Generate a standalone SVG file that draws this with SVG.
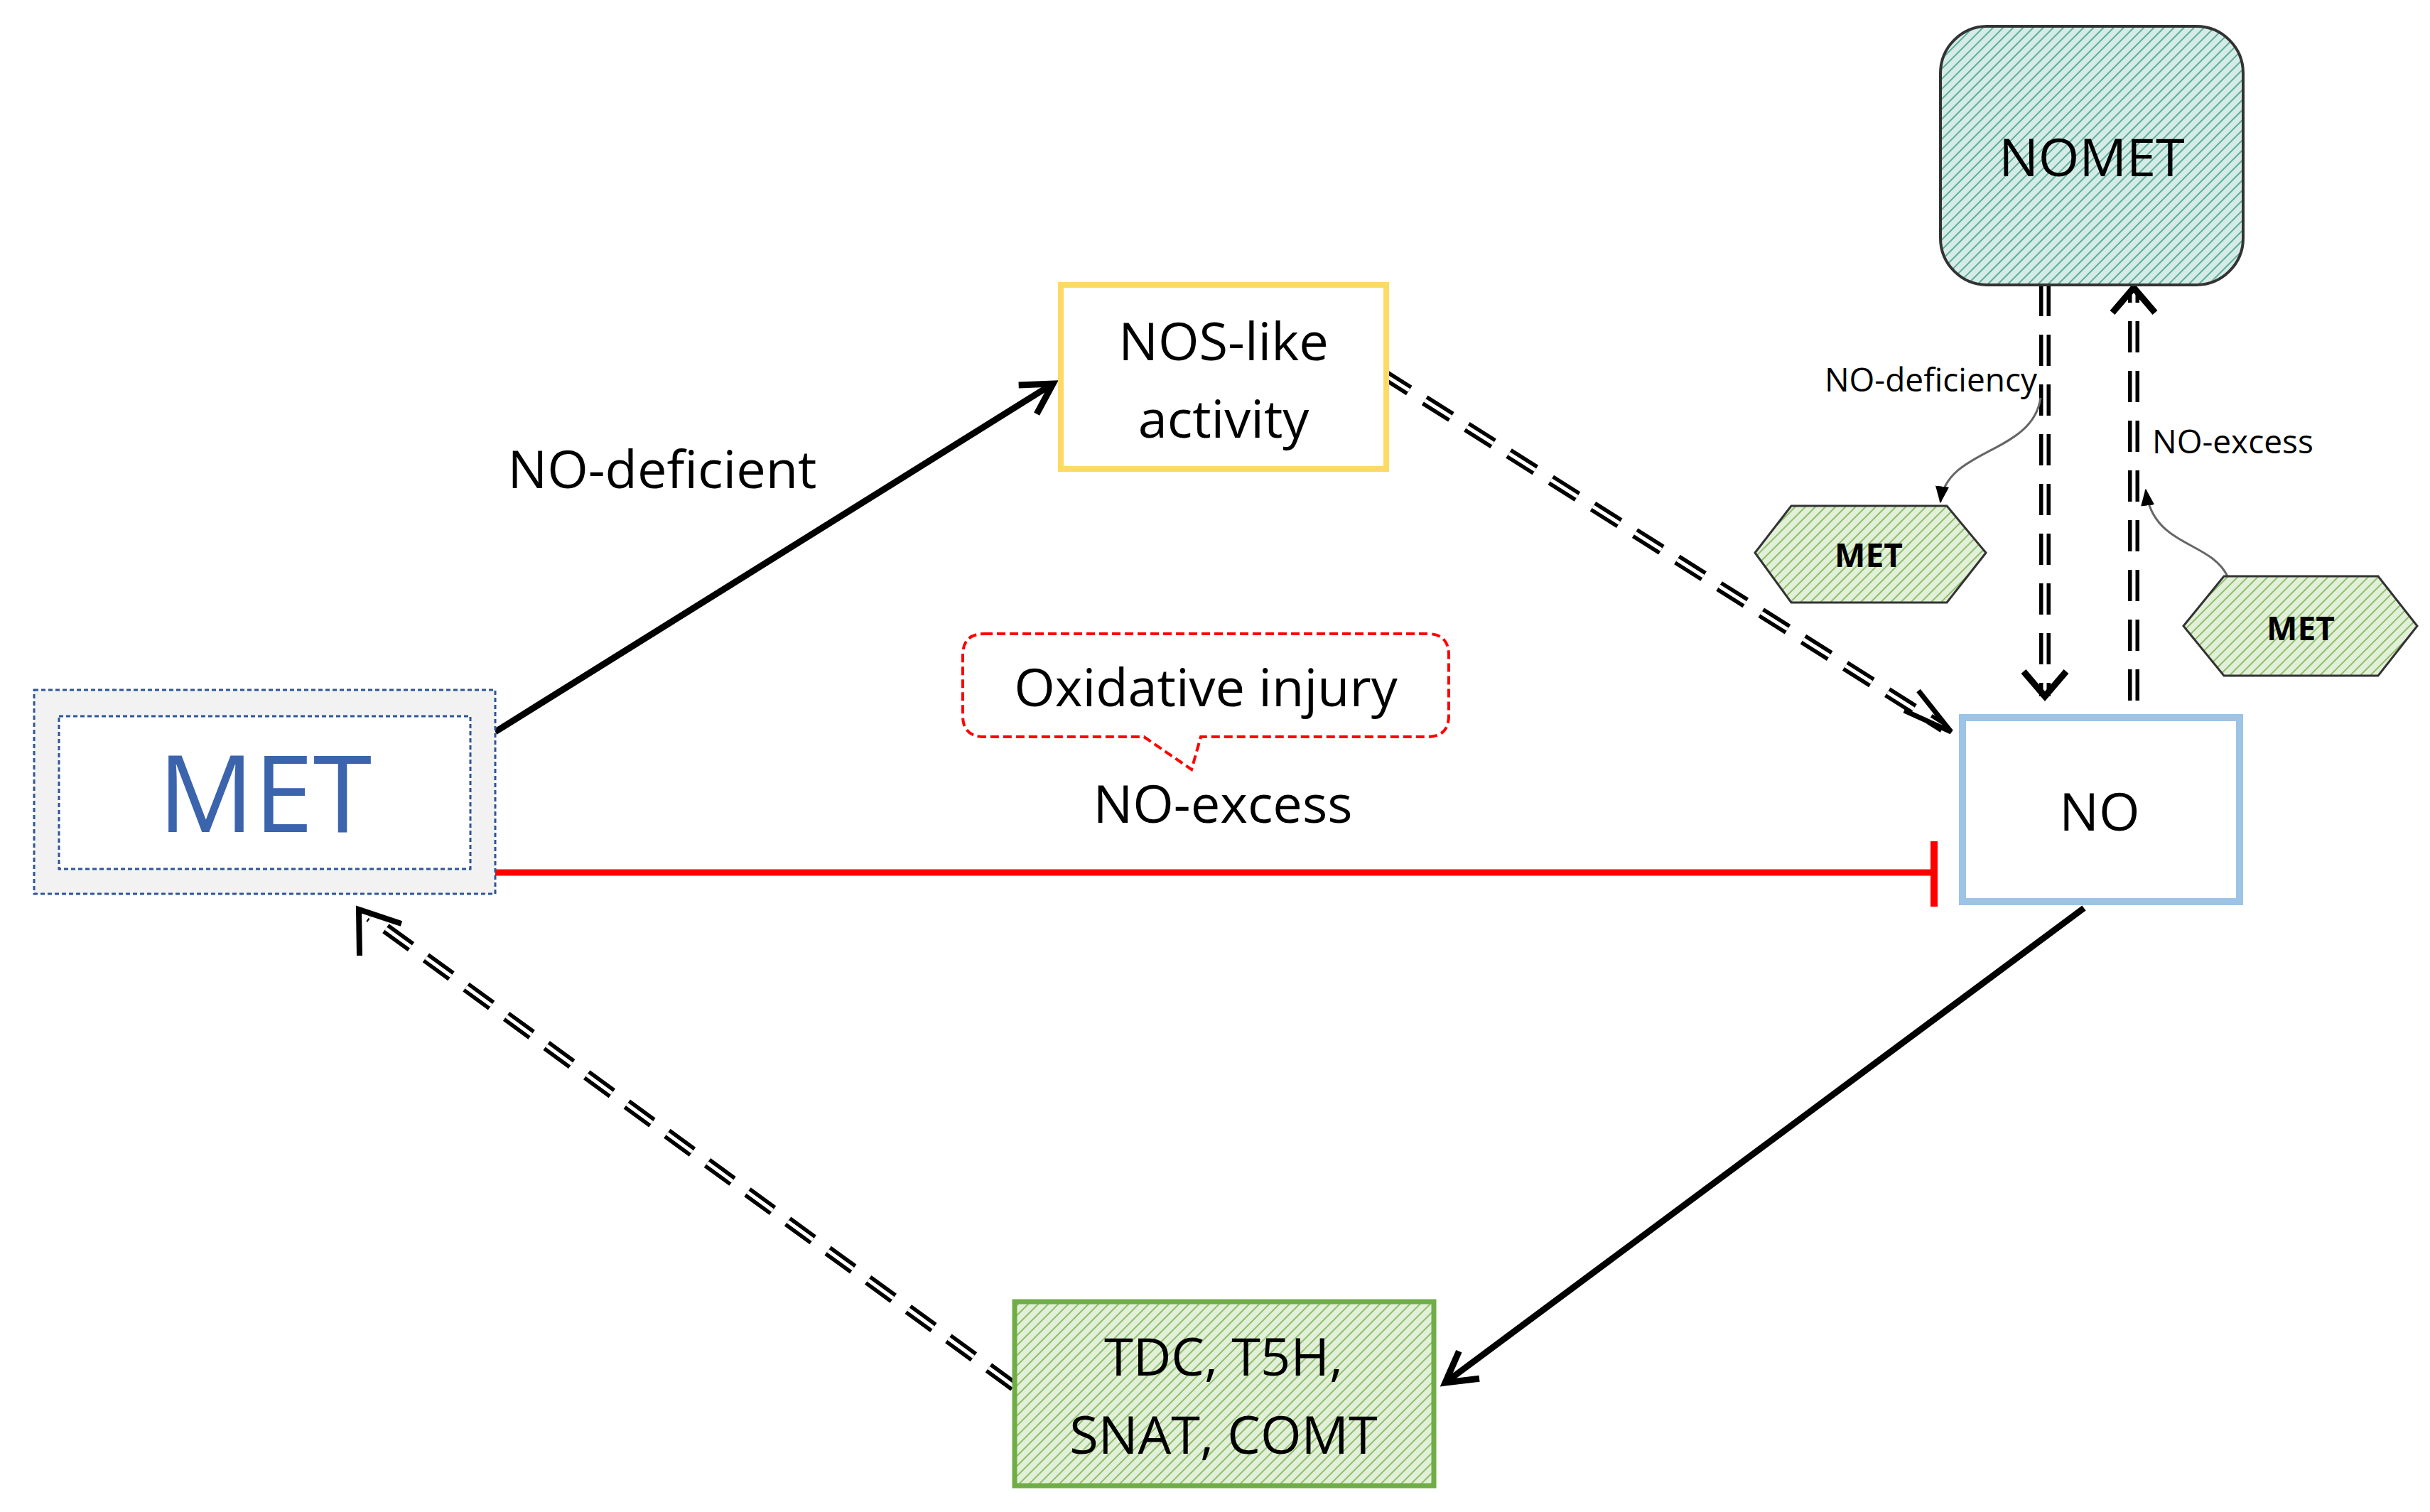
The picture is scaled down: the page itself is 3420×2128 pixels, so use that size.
<svg xmlns="http://www.w3.org/2000/svg" width="3420" height="2128" viewBox="0 0 3420 2128">
<defs>
<pattern id="hg" width="10" height="10" patternUnits="userSpaceOnUse" patternTransform="rotate(45)"><rect width="10" height="10" fill="#e2efd9"/><line x1="0" y1="0" x2="0" y2="10" stroke="#8fbf6a" stroke-width="4"/></pattern>
<pattern id="ht" width="10" height="10" patternUnits="userSpaceOnUse" patternTransform="rotate(45)"><rect width="10" height="10" fill="#d5ece6"/><line x1="0" y1="0" x2="0" y2="10" stroke="#5fae9c" stroke-width="4"/></pattern>
<marker id="ah" viewBox="0 0 20 20" refX="17" refY="10" markerWidth="60" markerHeight="60" orient="auto" markerUnits="userSpaceOnUse"><path d="M3,2 L17,10 L3,18" fill="none" stroke="#000" stroke-width="3"/></marker>
<marker id="as" viewBox="0 0 10 10" refX="9" refY="5" markerWidth="24" markerHeight="24" orient="auto" markerUnits="userSpaceOnUse"><path d="M0,1 L10,5 L0,9 z" fill="#000"/></marker>
</defs>
<style>
text{font-family:"Open Sans","Liberation Sans",sans-serif;fill:#000;text-anchor:middle;dominant-baseline:central}
.big{font-size:74px}
.sm{font-size:46px}
.dd{fill:none;stroke:#000;stroke-width:16;stroke-dasharray:44 26}
.dw{fill:none;stroke:#fff;stroke-width:5;stroke-dasharray:44 26}
</style>
<rect width="3420" height="2128" fill="#fff"/>
<g id="connectors">
<line x1="697" y1="1030" x2="1482" y2="540" stroke="#000" stroke-width="9" marker-end="url(#ah)"/>
<line x1="697" y1="1228" x2="2722" y2="1228" stroke="#f00" stroke-width="9"/>
<line x1="2722" y1="1184" x2="2722" y2="1276" stroke="#f00" stroke-width="10"/>
<line x1="2933" y1="1278" x2="2034" y2="1946" stroke="#000" stroke-width="9" marker-end="url(#ah)"/>
<path class="dd" d="M1946,526 L2735,1024"/><path class="dw" d="M1946,526 L2735,1024"/>
<path d="M2680,1000 L2746,1030 L2700,972" fill="none" stroke="#000" stroke-width="7"/>
<path class="dd" d="M1427,1951 L520,1290"/><path class="dw" d="M1427,1951 L520,1290"/>
<path d="M506,1345 L505,1280 L565,1300" fill="none" stroke="#000" stroke-width="8"/>
<path class="dd" d="M2878,401 L2878,980"/><path class="dw" d="M2878,401 L2878,980"/>
<path d="M2848,945 L2878,980 L2908,945" fill="none" stroke="#000" stroke-width="9"/>
<path class="dd" d="M3003,986 L3003,410"/><path class="dw" d="M3003,986 L3003,410"/>
<path d="M2973,440 L3003,405 L3033,440" fill="none" stroke="#000" stroke-width="9"/>
<path d="M2872,560 C2860,640 2740,630 2731,706" fill="none" stroke="#666" stroke-width="3" marker-end="url(#as)"/>
<path d="M3135,811 C3110,760 3030,770 3020,690" fill="none" stroke="#666" stroke-width="3" marker-end="url(#as)"/>
</g>
<text class="big" x="932" y="658">NO-deficient</text>
<text class="big" x="1721" y="1129">NO-excess</text>
<text class="sm" x="2867" y="533" style="text-anchor:end">NO-deficiency</text>
<text class="sm" x="3029" y="620" style="text-anchor:start">NO-excess</text>
<g id="met">
<rect x="48" y="971" width="649" height="287" fill="#f2f2f2" stroke="#2f5597" stroke-width="3" stroke-dasharray="6 4"/>
<rect x="83" y="1008" width="579" height="215" fill="#fff" stroke="#2f5597" stroke-width="3" stroke-dasharray="6 4"/>
<text x="373" y="1113" style="font-size:150px;fill:#3b64ad">MET</text>
</g>
<g id="nos">
<rect x="1493" y="401" width="458" height="259" fill="#fff" stroke="#ffd966" stroke-width="8"/>
<text class="big" x="1722" y="478">NOS-like</text>
<text class="big" x="1722" y="587">activity</text>
</g>
<g id="nomet">
<rect x="2731" y="37" width="426" height="364" rx="66" fill="url(#ht)" stroke="#333" stroke-width="4"/>
<text class="big" x="2944" y="219">NOMET</text>
</g>
<g id="no">
<rect x="2762" y="1010" width="390" height="259" fill="#fff" stroke="#9dc3e6" stroke-width="10"/>
<text class="big" x="2955" y="1140">NO</text>
</g>
<g id="enz">
<rect x="1428" y="1832" width="590" height="259" fill="url(#hg)" stroke="#70ad47" stroke-width="7"/>
<text class="big" x="1722" y="1907">TDC, T5H,</text>
<text class="big" x="1722" y="2017">SNAT, COMT</text>
</g>
<g id="oxid">
<path d="M1385,892 H2009 Q2039,892 2039,922 V1007 Q2039,1037 2009,1037 H1690 L1677,1083 L1610,1037 H1385 Q1355,1037 1355,1007 V922 Q1355,892 1385,892 Z" fill="#fff" stroke="#f00" stroke-width="4" stroke-dasharray="12 6"/>
<text class="big" x="1697" y="965">Oxidative injury</text>
</g>
<g id="hex1">
<polygon points="2470,778 2521,712 2740,712 2795,778 2740,848 2521,848" fill="url(#hg)" stroke="#333" stroke-width="3"/>
<text x="2630" y="780" style="font-size:46px;font-weight:bold">MET</text>
</g>
<g id="hex2">
<polygon points="3073,881 3130,811 3347,811 3402,881 3347,951 3130,951" fill="url(#hg)" stroke="#333" stroke-width="3"/>
<text x="3238" y="883" style="font-size:46px;font-weight:bold">MET</text>
</g>
</svg>
